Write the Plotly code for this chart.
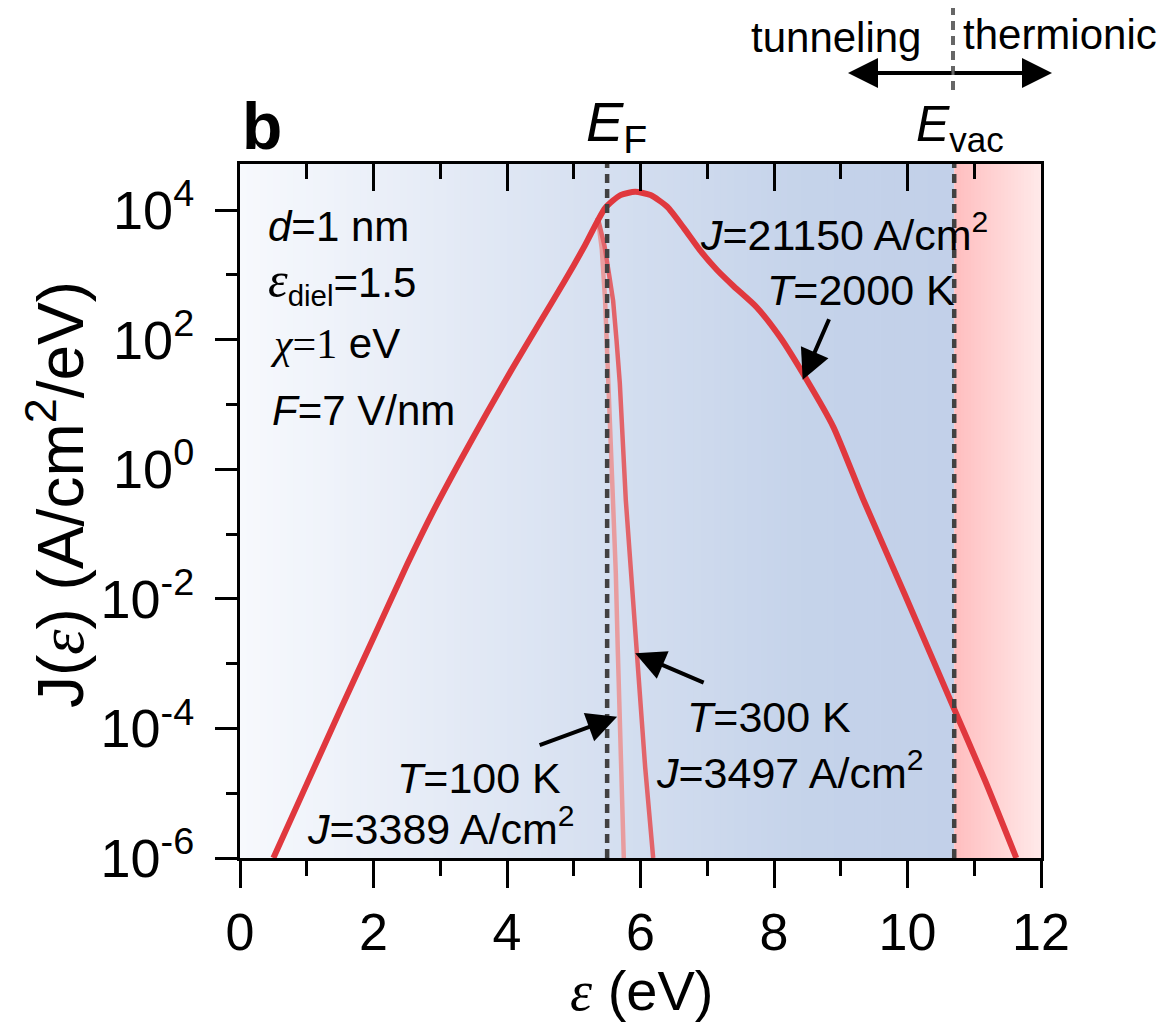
import plotly.graph_objects as go

# Energy-resolved emission current density J(eps) at three temperatures
# (energy in eV, log10 of J in A/cm^2/eV)
e_2000 = [0.50, 1.00, 1.50, 2.00, 2.50, 2.90, 3.30, 3.70, 4.10, 4.50, 4.85, 5.15,
          5.47, 5.70, 5.92, 6.15, 6.40, 6.65, 6.89, 7.15, 7.40, 7.74, 8.09, 8.49,
          8.89, 9.33, 9.95, 10.64, 11.16, 11.63]
logj_2000 = [-6.00, -4.86, -3.72, -2.60, -1.48, -0.64, 0.13, 0.87, 1.59, 2.28, 2.88, 3.42,
             4.03, 4.23, 4.28, 4.23, 4.05, 3.72, 3.38, 3.07, 2.82, 2.50, 2.04, 1.38,
             0.65, -0.45, -1.91, -3.56, -4.80, -6.00]

e_300 = [5.36, 5.46, 5.53, 5.59, 5.64, 5.69, 5.78, 5.86, 5.94, 6.01, 6.07, 6.13, 6.19]
logj_300 = [3.88, 3.45, 3.00, 2.60, 2.00, 1.33, -0.48, -1.65, -2.79, -3.75, -4.60, -5.30, -6.00]

e_100 = [5.36, 5.42, 5.47, 5.51, 5.55, 5.59, 5.63, 5.66, 5.69, 5.72, 5.75]
logj_100 = [3.88, 3.40, 2.60, 1.60, 0.60, -0.40, -1.60, -2.80, -3.80, -4.90, -6.00]

E_FERMI = 5.5
E_VAC = 10.7

x_ticks = [0, 2, 4, 6, 8, 10, 12]
y_exponents = [-6, -4, -2, 0, 2, 4]
y_minor_exponents = [-5, -3, -1, 1, 3]

# Figure geometry (pixels)
W, H = 1166, 1025
L, R, T, B = 240, 125, 164, 167
PW, PH = W - L - R, H - T - B


def fx(px):
    """Pixel column -> paper x."""
    return (px - L) / PW


def fy(py):
    """Pixel row -> paper y."""
    return (H - B - py) / PH


SANS = "Liberation Sans, Arial, sans-serif"

fig = go.Figure()

fig.add_trace(go.Scatter(x=e_100, y=[10 ** v for v in logj_100], mode="lines",
                         line=dict(color="#e89c9e", width=4.5), hoverinfo="skip",
                         showlegend=False))
fig.add_trace(go.Scatter(x=e_300, y=[10 ** v for v in logj_300], mode="lines",
                         line=dict(color="#e2646a", width=4.5), hoverinfo="skip",
                         showlegend=False))
fig.add_trace(go.Scatter(x=e_2000, y=[10 ** v for v in logj_2000], mode="lines",
                         line=dict(color="#e0383e", width=6, shape="spline", smoothing=0.6),
                         hoverinfo="skip", showlegend=False))
# invisible trace that carries the top axis
fig.add_trace(go.Scatter(x=[0, 12], y=[1, 1], xaxis="x2", mode="lines",
                         line=dict(width=0), hoverinfo="skip", showlegend=False))

# Background shading: blue gradient below E_vac, pink gradient above
blue_stops = [(0.0, (247, 249, 253)), (3.0, (229, 235, 246)), (6.0, (210, 221, 239)),
              (8.5, (197, 211, 234)), (E_VAC, (194, 208, 233))]
pink_stops = [(E_VAC, (255, 190, 191)), (12.0, (255, 233, 233))]


def interp(stops, x):
    for (x0, c0), (x1, c1) in zip(stops[:-1], stops[1:]):
        if x0 <= x <= x1:
            t = (x - x0) / (x1 - x0)
            return tuple(round(a + (b - a) * t) for a, b in zip(c0, c1))
    return stops[-1][1]


shapes = []


def shade(x0, x1, stops, n):
    step = (x1 - x0) / n
    for i in range(n):
        a = x0 + i * step
        b = a + step
        c = interp(stops, (a + b) / 2)
        shapes.append(dict(type="rect", xref="x", yref="paper", x0=a, x1=min(b + step * 0.3, x1),
                           y0=0, y1=1, fillcolor="rgb(%d,%d,%d)" % c,
                           line=dict(width=0), layer="below"))


shade(0, E_VAC, blue_stops, 107)
shade(E_VAC, 12, pink_stops, 26)

dash_line = dict(color="#414141", width=4.5, dash="9px,6px")
for xv in (E_FERMI, E_VAC):
    shapes.append(dict(type="line", xref="x", yref="paper", x0=xv, x1=xv, y0=0, y1=1,
                       line=dash_line, layer="above"))
# E_vac marker continued above the frame
shapes.append(dict(type="line", xref="paper", yref="paper", x0=fx(953), x1=fx(953),
                   y0=fy(90), y1=fy(8), line=dict(color="#666666", width=4, dash="9px,6px")))

ann = []


def text(s, px, py, size, family=SANS, xanchor="left", yanchor="middle", **kw):
    ann.append(dict(text=s, x=fx(px), y=fy(py), xref="paper", yref="paper",
                    showarrow=False, xanchor=xanchor, yanchor=yanchor,
                    font=dict(size=size, family=family, color="black"), **kw))


# panel letter and energy markers
text("<b>b</b>", 240, 126, 66)
text("<i>E</i><sub>F</sub>", 584, 125, 56)
text("<i>E</i><sub>vac</sub>", 914, 128, 50)
text("tunneling", 836, 38, 42, xanchor="center")
text("thermionic", 1060, 35, 42, xanchor="center")

# regime arrows above the frame
for head, tail in ((848, 953), (1052, 953)):
    ann.append(dict(x=fx(head), y=fy(73), xref="paper", yref="paper", ax=tail - head, ay=0,
                    axref="pixel", ayref="pixel", showarrow=True, arrowhead=2,
                    arrowsize=1.5, arrowwidth=4, arrowcolor="black", text=""))

# parameters
eps = "<span style='font-family:Liberation Serif'><i>ε</i></span>"
eps_big = "<span style='font-family:Liberation Serif;font-size:50px'><i>ε</i></span>"
chi = "<span style='font-family:Liberation Serif'><i>χ</i>=1</span>"
text("<i>d</i>=1 nm", 266, 226, 42)
text(eps_big + "<sub>diel</sub>=1.5", 266, 282, 42)
text(chi + " eV", 268, 343, 42)
text("<i>F</i>=7 V/nm", 270, 410, 42)

# curve labels
text("<i>J</i>=21150 A/cm<sup>2</sup>", 698, 232, 43)
text("<i>T</i>=2000 K", 765, 290, 43)
text("<i>T</i>=300 K", 685, 717, 43)
text("<i>J</i>=3497 A/cm<sup>2</sup>", 654, 770, 43)
text("<i>T</i>=100 K", 395, 778, 43)
text("<i>J</i>=3389 A/cm<sup>2</sup>", 305, 826, 43)

# arrows pointing at the curves (heads given on the data axes)
for hx, hlog, ax, ay in ((8.43, 1.38, 27, -62), (5.92, -2.84, 70, 30), (5.65, -3.82, -79, 29)):
    ann.append(dict(x=hx, y=hlog, xref="x", yref="y", ax=ax, ay=ay, showarrow=True,
                    arrowhead=2, arrowsize=1.5, arrowwidth=4, arrowcolor="black", text=""))

# axis titles
text("J(" + eps + ") (A/cm<sup>2</sup>/eV)", 56, 495, 64, xanchor="center", textangle=-90)
text(eps + " (eV)", 641, 1024, 56, xanchor="center", yanchor="bottom")

fig.update_layout(
    width=W, height=H, autosize=False,
    margin=dict(l=L, r=R, t=T, b=B, pad=0),
    paper_bgcolor="white", plot_bgcolor="white",
    shapes=shapes, annotations=ann,
    xaxis=dict(range=[0, 12], tickvals=x_ticks, ticktext=[str(v) for v in x_ticks],
               ticks="outside", ticklen=27, tickwidth=2.5, tickcolor="black",
               minor=dict(dtick=1, tick0=0, ticks="outside", ticklen=15, tickwidth=2.5,
                          tickcolor="black"),
               showline=True, linecolor="black", linewidth=3, mirror=True,
               showgrid=False, zeroline=False, ticklabelstandoff=0,
               tickfont=dict(size=52, family=SANS, color="black")),
    xaxis2=dict(range=[0, 12], overlaying="x", side="top", anchor="y",
                tickvals=x_ticks, showticklabels=False,
                ticks="inside", ticklen=27, tickwidth=2.5, tickcolor="black",
                minor=dict(dtick=1, tick0=0, ticks="inside", ticklen=15, tickwidth=2.5,
                           tickcolor="black"),
                showline=False, showgrid=False, zeroline=False),
    yaxis=dict(type="log", range=[-6, 4.71],
               tickvals=[10 ** e for e in y_exponents],
               ticktext=["10<sup>%d</sup>" % e for e in y_exponents],
               ticks="outside", ticklen=22, tickwidth=2.5, tickcolor="black",
               minor=dict(tickvals=[10 ** e for e in y_minor_exponents], ticks="outside",
                          ticklen=11, tickwidth=2.5, tickcolor="black"),
               showline=True, linecolor="black", linewidth=3, mirror=True,
               showgrid=False, zeroline=False, ticklabelstandoff=10,
               tickfont=dict(size=54, family=SANS, color="black")),
)

fig.write_html("out.html")
